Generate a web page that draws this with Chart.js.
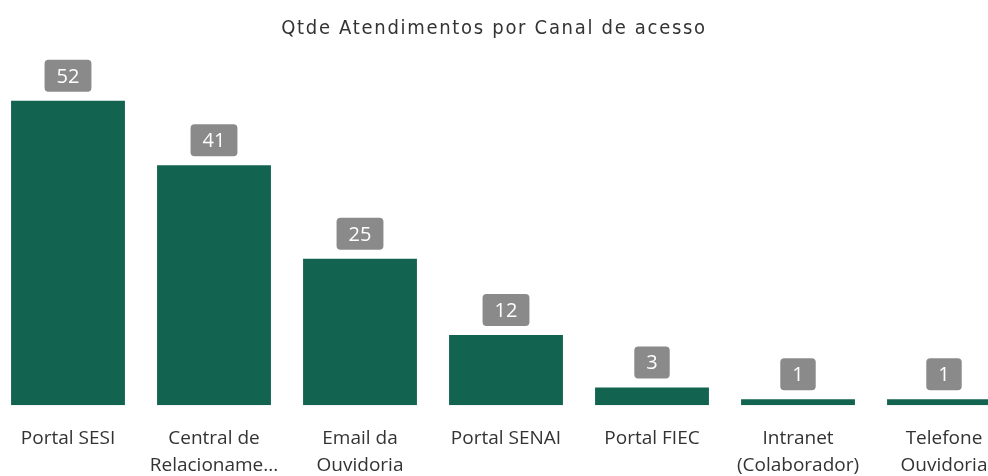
<!DOCTYPE html>
<html>
<head>
<meta charset="utf-8">
<script src="https://cdn.jsdelivr.net/npm/chart.js@4"></script>
<style>
    html, body { margin: 0; padding: 0; background: #fff; overflow: hidden; width: 988px; height: 476px; }
    #wrap { position: absolute; left: -5px; top: 0; width: 1022px; height: 499px; }
    #title {
        position: absolute; left: 0; top: 15px; width: 988px; text-align: center;
        font-family: "DejaVu Sans Condensed", "Roboto", sans-serif; font-size: 20px;
        color: #333; letter-spacing: 1.7px;
    }
</style>
</head>
<body>
<div id="wrap"><canvas id="chart"></canvas></div>
<div id="title">Qtde Atendimentos por Canal de acesso</div>
<script>
// Chart data
const categories = [
    'Portal SESI',
    ['Central de', 'Relacioname...'],
    ['Email da', 'Ouvidoria'],
    'Portal SENAI',
    'Portal FIEC',
    ['Intranet', '(Colaborador)'],
    ['Telefone', 'Ouvidoria']
];
const values = [52, 41, 25, 12, 3, 1, 1];

const barColor = '#126451';
const labelBoxColor = '#8a8a8a';

// Draws the gray value boxes above each bar
const valueBoxes = {
    id: 'valueBoxes',
    afterDatasetsDraw(chart) {
        const ctx = chart.ctx;
        const meta = chart.getDatasetMeta(0);
        ctx.save();
        ctx.font = '20px "Open Sans", sans-serif';
        ctx.textAlign = 'center';
        ctx.textBaseline = 'middle';
        meta.data.forEach((bar, i) => {
            const text = String(values[i]);
            const w = ctx.measureText(text).width + 24;
            const h = 32;
            const x = bar.x - w / 2;
            const y = bar.y - 9 - h;
            ctx.fillStyle = labelBoxColor;
            ctx.beginPath();
            ctx.roundRect(x, y, w, h, 4);
            ctx.fill();
            ctx.fillStyle = '#fff';
            ctx.fillText(text, bar.x, y + h / 2 + 1);
        });
        ctx.restore();
    }
};

new Chart(document.getElementById('chart'), {
    type: 'bar',
    data: {
        labels: categories,
        datasets: [{
            data: values,
            backgroundColor: barColor,
            categoryPercentage: 1,
            barPercentage: 0.78
        }]
    },
    options: {
        responsive: true,
        maintainAspectRatio: false,
        animation: false,
        layout: { padding: { top: 54, left: 0, right: 0, bottom: 0 } },
        plugins: {
            legend: { display: false },
            tooltip: { enabled: false }
        },
        scales: {
            x: {
                grid: { display: false, drawTicks: false },
                border: { display: false },
                ticks: {
                    color: '#333',
                    padding: 19,
                    maxRotation: 0,
                    autoSkip: false,
                    font: { family: '"Open Sans", sans-serif', size: 19, lineHeight: 1.47 }
                }
            },
            y: {
                display: false,
                min: 0,
                max: 60
            }
        }
    },
    plugins: [valueBoxes]
});
</script>
</body>
</html>
